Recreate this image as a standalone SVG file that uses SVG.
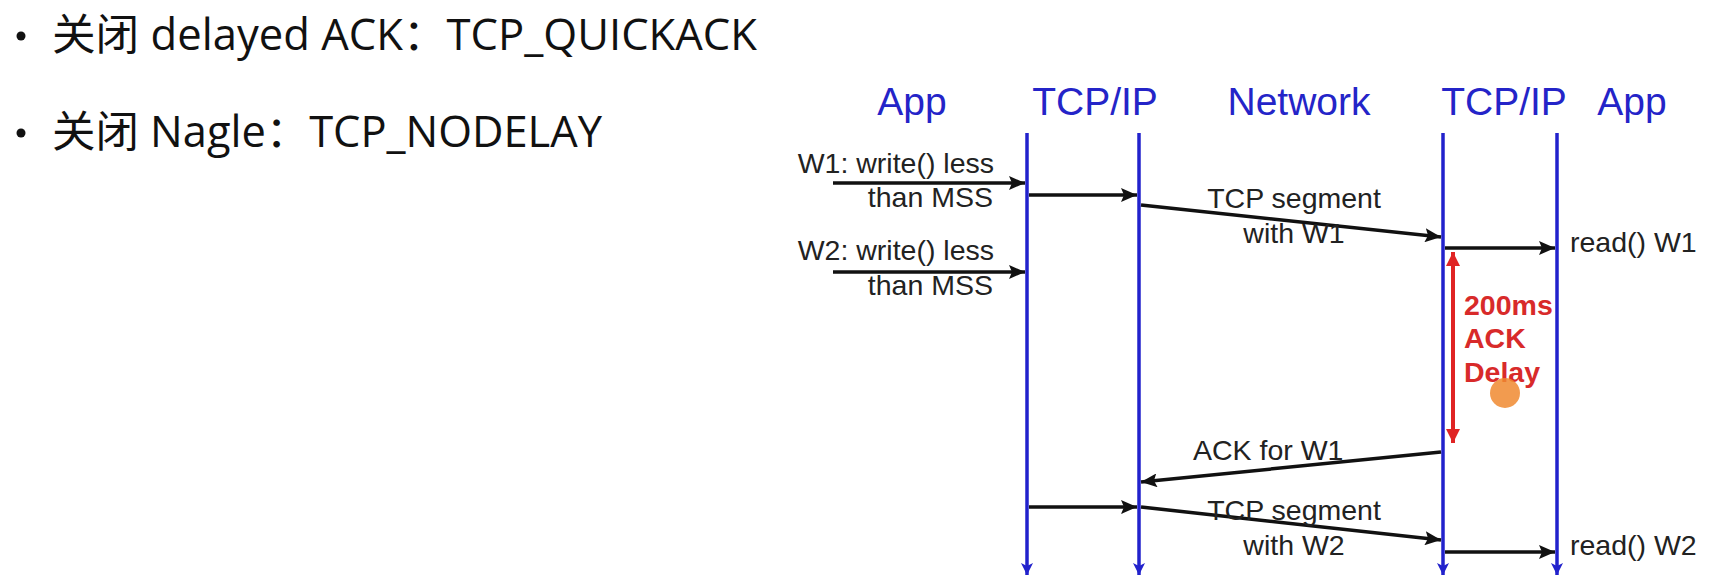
<svg xmlns="http://www.w3.org/2000/svg" width="1712" height="586" viewBox="0 0 1712 586">
  <style>
    .bullet { font-family: "Open Sans", "Noto Sans CJK SC", sans-serif; font-size: 43px; fill: #111; }
    .hdr { font-family: "Liberation Sans", Arial, sans-serif; font-size: 39px; fill: #2424c8; text-anchor: middle; }
    .lbl { font-family: "Liberation Sans", Arial, sans-serif; font-size: 28.5px; fill: #222; }
    .red { font-family: "Liberation Sans", Arial, sans-serif; font-size: 28.5px; font-weight: bold; fill: #d82a2a; }
    .life { stroke: #2222cc; stroke-width: 3.5; fill: none; marker-end: url(#blueArrow); }
    .msg { stroke: #111; stroke-width: 3.5; fill: none; marker-end: url(#blackArrow); }
  </style>
  <defs>
    <marker id="blueArrow" markerWidth="14" markerHeight="14" refX="12" refY="7" orient="auto" markerUnits="userSpaceOnUse">
      <path d="M0,1 L12,7 L0,13 L3,7 Z" fill="#2222cc"/>
    </marker>
    <marker id="blackArrow" markerWidth="18" markerHeight="14" refX="16" refY="7" orient="auto" markerUnits="userSpaceOnUse">
      <path d="M0,0 L16,7 L0,14 L3,7 Z" fill="#111"/>
    </marker>
    <marker id="redArrow" markerWidth="16" markerHeight="14" refX="14" refY="7" orient="auto-start-reverse" markerUnits="userSpaceOnUse">
      <path d="M0,0 L14,7 L0,14 Z" fill="#e02424"/>
    </marker>
  </defs>
  <rect width="1712" height="586" fill="#ffffff"/>

  <g id="bullets">
    <circle cx="21" cy="36" r="4.5" fill="#111"/>
    <text class="bullet" x="52" y="50" textLength="705" lengthAdjust="spacingAndGlyphs">关闭 delayed ACK：TCP_QUICKACK</text>
    <circle cx="21" cy="133" r="4.5" fill="#111"/>
    <text class="bullet" x="52" y="147" textLength="550" lengthAdjust="spacingAndGlyphs">关闭 Nagle：TCP_NODELAY</text>
  </g>

  <g id="headers">
    <text class="hdr" x="912" y="115">App</text>
    <text class="hdr" x="1095" y="115">TCP/IP</text>
    <text class="hdr" x="1299" y="115">Network</text>
    <text class="hdr" x="1504" y="115">TCP/IP</text>
    <text class="hdr" x="1632" y="115">App</text>
  </g>

  <g id="lifelines">
    <line id="life-app1" class="life" x1="1027" y1="133" x2="1027" y2="575"/>
    <line id="life-tcp1" class="life" x1="1139" y1="133" x2="1139" y2="575"/>
    <line id="life-tcp2" class="life" x1="1443" y1="133" x2="1443" y2="575"/>
    <line id="life-app2" class="life" x1="1557" y1="133" x2="1557" y2="575"/>
  </g>

  <g id="connectors">
    <line class="msg" x1="833" y1="183" x2="1025" y2="183"/>
    <line class="msg" x1="1029" y1="195" x2="1137" y2="195"/>
    <line class="msg" x1="1141" y1="205" x2="1441" y2="237"/>
    <line class="msg" x1="833" y1="272" x2="1025" y2="272"/>
    <line class="msg" x1="1445" y1="248" x2="1555" y2="248"/>
    <line class="msg" x1="1441" y1="452" x2="1141" y2="482"/>
    <line class="msg" x1="1029" y1="507" x2="1137" y2="507"/>
    <line class="msg" x1="1141" y1="507" x2="1441" y2="540"/>
    <line class="msg" x1="1445" y1="552" x2="1555" y2="552"/>
    <line x1="1453" y1="252" x2="1453" y2="443" stroke="#e02424" stroke-width="4" marker-start="url(#redArrow)" marker-end="url(#redArrow)"/>
  </g>

  <g id="labels">
    <text class="lbl" x="994" y="173" text-anchor="end">W1: write() less</text>
    <text class="lbl" x="993" y="207" text-anchor="end">than MSS</text>
    <text class="lbl" x="994" y="260" text-anchor="end">W2: write() less</text>
    <text class="lbl" x="993" y="295" text-anchor="end">than MSS</text>
    <text class="lbl" x="1294" y="208" text-anchor="middle">TCP segment</text>
    <text class="lbl" x="1294" y="243" text-anchor="middle">with W1</text>
    <text class="lbl" x="1570" y="252">read() W1</text>
    <text class="lbl" x="1193" y="460">ACK for W1</text>
    <text class="lbl" x="1294" y="520" text-anchor="middle">TCP segment</text>
    <text class="lbl" x="1294" y="555" text-anchor="middle">with W2</text>
    <text class="lbl" x="1570" y="555">read() W2</text>
  </g>

  <g id="delay-note">
    <text class="red" x="1464" y="315">200ms</text>
    <text class="red" x="1464" y="348">ACK</text>
    <text class="red" x="1464" y="382">Delay</text>
  </g>

  <circle id="cursor" cx="1505" cy="393" r="15" fill="#f08a30" opacity="0.85"/>
</svg>
